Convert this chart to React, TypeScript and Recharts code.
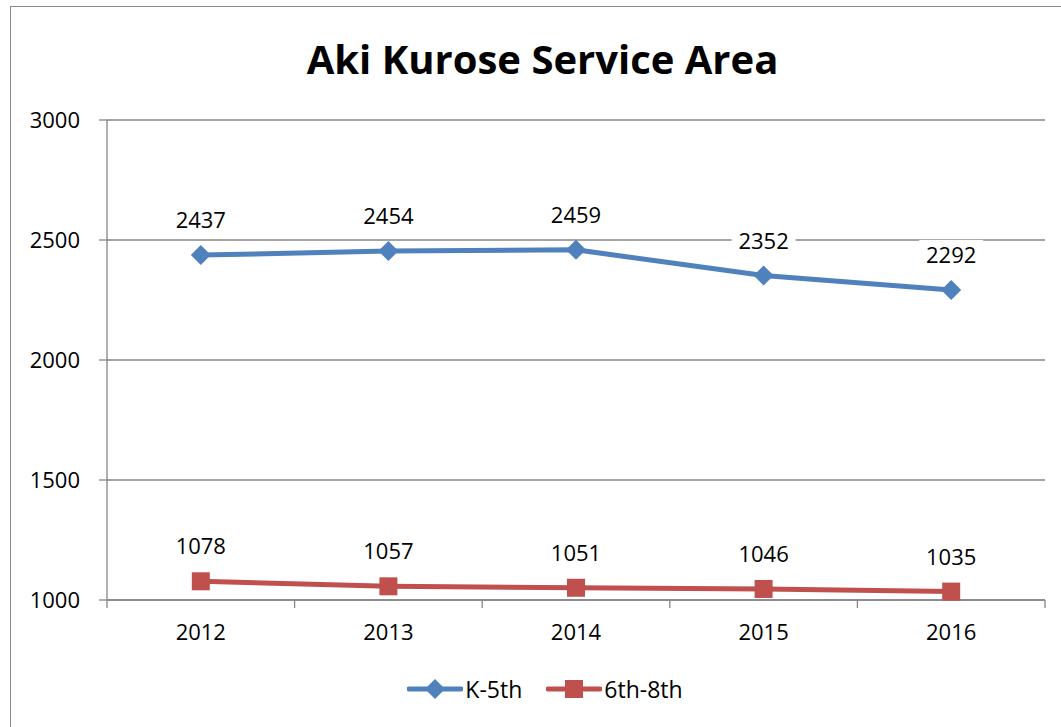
import React from "react";
import {
  LineChart,
  Line,
  XAxis,
  YAxis,
  CartesianGrid,
  Legend,
  LabelList,
} from "recharts";

const years = ["2012", "2013", "2014", "2015", "2016"];
const k5 = [2437, 2454, 2459, 2352, 2292];
const g68 = [1078, 1057, 1051, 1046, 1035];
const yTicks = [1000, 1500, 2000, 2500, 3000];

const BLUE = "#4F81BD";
const RED = "#C0504D";
const GRID = "#868686";
const FONT = "'Open Sans', sans-serif";
const X_TICK_GAP = 24;

const data = years.map((year, i) => ({ year, k5: k5[i], g68: g68[i] }));

const Diamond = (props: any) => {
  const { cx, cy } = props;
  if (cx == null || cy == null) return null;
  return (
    <polygon
      points={`${cx},${cy - 10} ${cx + 10},${cy} ${cx},${cy + 10} ${cx - 10},${cy}`}
      fill={BLUE}
    />
  );
};

const Square = (props: any) => {
  const { cx, cy } = props;
  if (cx == null || cy == null) return null;
  return <rect x={cx - 9} y={cy - 9} width={18} height={18} fill={RED} />;
};

// year label plus tick marks on the band edges (Excel style)
const YearTick = (props: any) => {
  const { x, y, payload, index, visibleTicksCount } = props;
  const half = payload?.offset ?? 0;
  const axisY = y - X_TICK_GAP;
  const isLast = index === visibleTicksCount - 1;
  return (
    <g>
      {half > 0 && (
        <line x1={x - half} x2={x - half} y1={axisY} y2={axisY + 8} stroke={GRID} strokeWidth={1.3} />
      )}
      {half > 0 && isLast && (
        <line x1={x + half} x2={x + half} y1={axisY} y2={axisY + 8} stroke={GRID} strokeWidth={1.3} />
      )}
      <text
        x={x}
        y={y}
        dy="0.71em"
        textAnchor="middle"
        fill="#000"
        fontSize={22}
        fontFamily={FONT}
      >
        {payload.value}
      </text>
    </g>
  );
};

const PointLabel = (props: any) => {
  const { x, y, value } = props;
  if (x == null || y == null) return null;
  const ly = y - 36;
  return (
    <g>
      <rect x={x - 32} y={ly - 14} width={64} height={28} fill="#fff" />
      <text
        x={x}
        y={ly}
        textAnchor="middle"
        dominantBaseline="central"
        fontFamily={FONT}
        fontSize={22}
        fill="#000"
      >
        {value}
      </text>
    </g>
  );
};

const LegendContent = () => {
  const items = [
    { name: "K-5th", color: BLUE, shape: "diamond" },
    { name: "6th-8th", color: RED, shape: "square" },
  ];
  return (
    <div
      style={{
        display: "flex",
        justifyContent: "center",
        alignItems: "center",
        gap: 24,
        fontFamily: FONT,
        fontSize: 23,
      }}
    >
      {items.map((it) => (
        <div key={it.name} style={{ display: "flex", alignItems: "center" }}>
          <svg width={56} height={24}>
            <line x1={2} y1={12} x2={54} y2={12} stroke={it.color} strokeWidth={5} strokeLinecap="round" />
            {it.shape === "diamond" ? (
              <polygon points="28,2 38,12 28,22 18,12" fill={it.color} />
            ) : (
              <rect x={19} y={3} width={18} height={18} fill={it.color} />
            )}
          </svg>
          <span style={{ marginLeft: 2 }}>{it.name}</span>
        </div>
      ))}
    </div>
  );
};

export default function App() {
  return (
    <div
      style={{
        position: "absolute",
        left: 0,
        top: 0,
        width: 1061,
        height: 727,
        overflow: "hidden",
        background: "#fff",
      }}
    >
      <div
        style={{
          position: "absolute",
          left: 10,
          top: 6,
          width: 1120,
          height: 800,
          border: "1.5px solid #8a8a8a",
        }}
      />
      <div
        style={{
          position: "absolute",
          left: 0,
          width: 1085,
          top: 31,
          textAlign: "center",
          fontFamily: FONT,
          fontWeight: 700,
          fontSize: 40,
          color: "#000",
        }}
      >
        Aki Kurose Service Area
      </div>
      <div style={{ position: "absolute", left: 0, top: 0 }}>
        <LineChart
          width={1061}
          height={727}
          data={data}
          margin={{ top: 120, right: 16, left: 0, bottom: 55 }}
        >
          <CartesianGrid vertical={false} stroke={GRID} strokeWidth={1.3} />
          <XAxis
            dataKey="year"
            scale="band"
            height={40}
            stroke={GRID}
            strokeWidth={1.3}
            tickLine={false}
            tickSize={0}
            tickMargin={X_TICK_GAP}
            interval={0}
            tick={<YearTick />}
          />
          <YAxis
            domain={[1000, 3000]}
            ticks={yTicks}
            width={107}
            tickSize={8}
            tickMargin={19}
            stroke={GRID}
            strokeWidth={1.3}
            tick={{ fill: "#000", fontSize: 22, fontFamily: FONT }}
          />
          <Legend
            verticalAlign="bottom"
            content={<LegendContent />}
            wrapperStyle={{ top: 673, left: 0, width: 1090 }}
          />
          <Line
            dataKey="k5"
            name="K-5th"
            stroke={BLUE}
            strokeWidth={5}
            dot={<Diamond />}
            activeDot={false}
            isAnimationActive={false}
          >
            <LabelList dataKey="k5" content={<PointLabel />} />
          </Line>
          <Line
            dataKey="g68"
            name="6th-8th"
            stroke={RED}
            strokeWidth={5}
            dot={<Square />}
            activeDot={false}
            isAnimationActive={false}
          >
            <LabelList dataKey="g68" content={<PointLabel />} />
          </Line>
        </LineChart>
      </div>
    </div>
  );
}
